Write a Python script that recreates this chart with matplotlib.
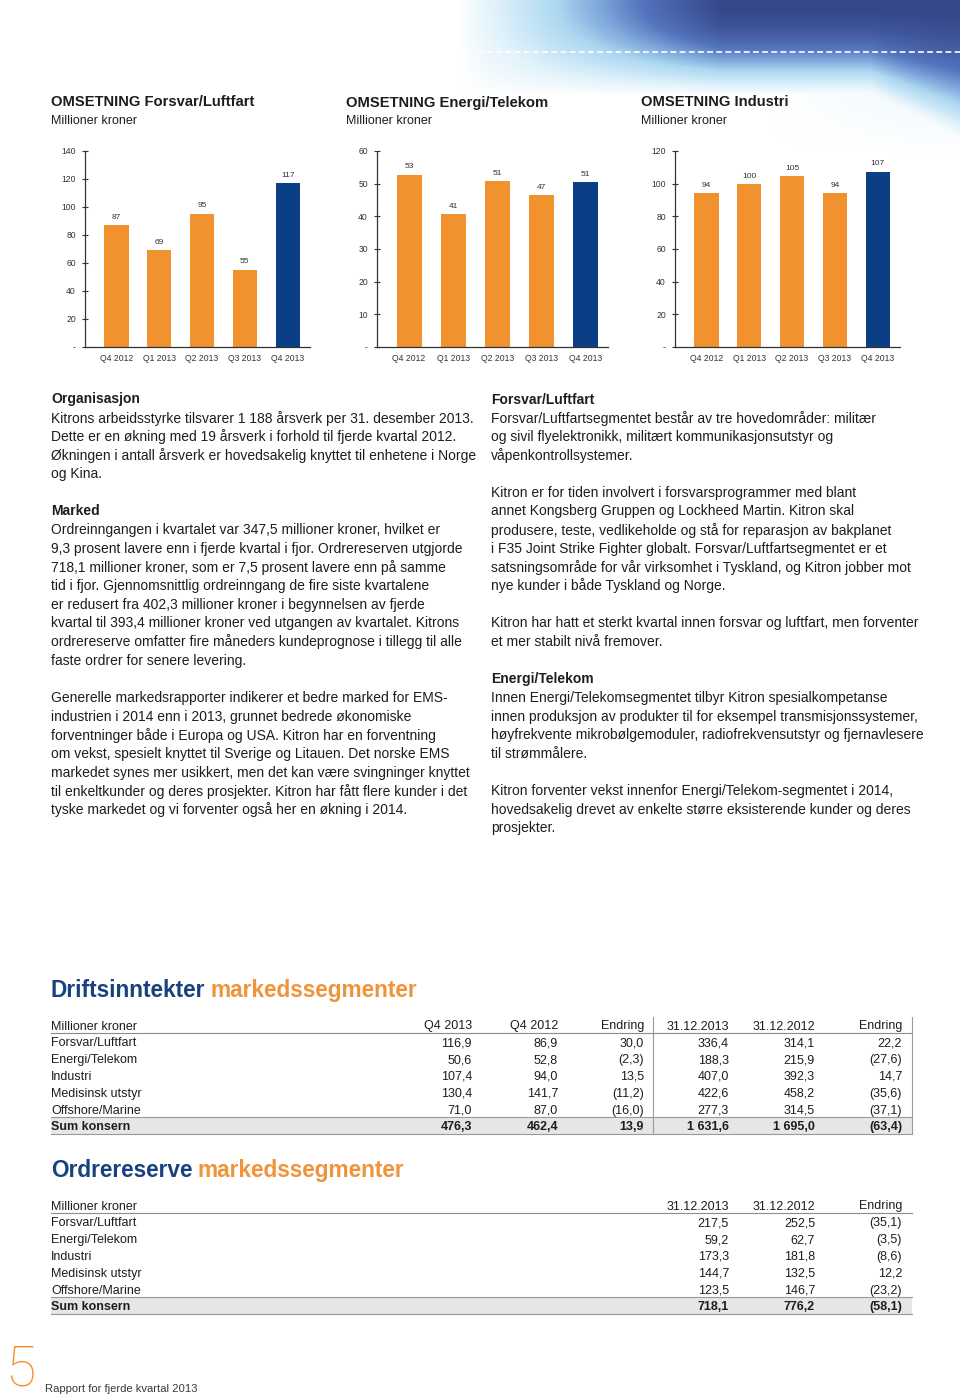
import numpy as np
import matplotlib
matplotlib.use("Agg")
import matplotlib.pyplot as plt
from matplotlib.colors import LinearSegmentedColormap
from matplotlib.patches import Rectangle

# --- data -------------------------------------------------------------
quarters = ["Q4 2012", "Q1 2013", "Q2 2013", "Q3 2013", "Q4 2013"]
oms_forsvar = [86.9, 69.0, 95.3, 55.3, 116.9]
oms_energi = [52.8, 40.7, 50.9, 46.6, 50.6]
oms_industri = [94.0, 99.9, 104.6, 94.2, 107.4]

segmenter = ["Forsvar/Luftfart", "Energi/Telekom", "Industri", "Medisinsk utstyr", "Offshore/Marine"]
q4_2013 = [116.9, 50.6, 107.4, 130.4, 71.0]
q4_2012 = [86.9, 52.8, 94.0, 141.7, 87.0]
q4_endring = [30.0, -2.3, 13.5, -11.2, -16.0]
aar_2013 = [336.4, 188.3, 407.0, 422.6, 277.3]
aar_2012 = [314.1, 215.9, 392.3, 458.2, 314.5]
aar_endring = [22.2, -27.6, 14.7, -35.6, -37.1]
sum_drift = [476.3, 462.4, 13.9, 1631.6, 1695.0, -63.4]

ordre_2013 = [217.5, 59.2, 173.3, 144.7, 123.5]
ordre_2012 = [252.5, 62.7, 181.8, 132.5, 146.7]
ordre_endring = [-35.1, -3.5, -8.6, 12.2, -23.2]
sum_ordre = [718.1, 776.2, -58.1]

venstre = [
    ("h", "Organisasjon"),
    ("p", "Kitrons arbeidsstyrke tilsvarer 1 188 årsverk per 31. desember 2013."),
    ("p", "Dette er en økning med 19 årsverk i forhold til fjerde kvartal 2012."),
    ("p", "Økningen i antall årsverk er hovedsakelig knyttet til enhetene i Norge"),
    ("p", "og Kina."),
    ("", ""),
    ("h", "Marked"),
    ("p", "Ordreinngangen i kvartalet var 347,5 millioner kroner, hvilket er"),
    ("p", "9,3 prosent lavere enn i fjerde kvartal i fjor. Ordrereserven utgjorde"),
    ("p", "718,1 millioner kroner, som er 7,5 prosent lavere enn på samme"),
    ("p", "tid i fjor. Gjennomsnittlig ordreinngang de fire siste kvartalene"),
    ("p", "er redusert fra 402,3 millioner kroner i begynnelsen av fjerde"),
    ("p", "kvartal til 393,4 millioner kroner ved utgangen av kvartalet. Kitrons"),
    ("p", "ordrereserve omfatter fire måneders kundeprognose i tillegg til alle"),
    ("p", "faste ordrer for senere levering."),
    ("", ""),
    ("p", "Generelle markedsrapporter indikerer et bedre marked for EMS-"),
    ("p", "industrien i 2014 enn i 2013, grunnet bedrede økonomiske"),
    ("p", "forventninger både i Europa og USA. Kitron har en forventning"),
    ("p", "om vekst, spesielt knyttet til Sverige og Litauen. Det norske EMS"),
    ("p", "markedet synes mer usikkert, men det kan være svingninger knyttet"),
    ("p", "til enkeltkunder og deres prosjekter. Kitron har fått flere kunder i det"),
    ("p", "tyske markedet og vi forventer også her en økning i 2014."),
]
hoyre = [
    ("h", "Forsvar/Luftfart"),
    ("p", "Forsvar/Luftfartsegmentet består av tre hovedområder: militær"),
    ("p", "og sivil flyelektronikk, militært kommunikasjonsutstyr og"),
    ("p", "våpenkontrollsystemer."),
    ("", ""),
    ("p", "Kitron er for tiden involvert i forsvarsprogrammer med blant"),
    ("p", "annet Kongsberg Gruppen og Lockheed Martin. Kitron skal"),
    ("p", "produsere, teste, vedlikeholde og stå for reparasjon av bakplanet"),
    ("p", "i F35 Joint Strike Fighter globalt. Forsvar/Luftfartsegmentet er et"),
    ("p", "satsningsområde for vår virksomhet i Tyskland, og Kitron jobber mot"),
    ("p", "nye kunder i både Tyskland og Norge."),
    ("", ""),
    ("p", "Kitron har hatt et sterkt kvartal innen forsvar og luftfart, men forventer"),
    ("p", "et mer stabilt nivå fremover."),
    ("", ""),
    ("h", "Energi/Telekom"),
    ("p", "Innen Energi/Telekomsegmentet tilbyr Kitron spesialkompetanse"),
    ("p", "innen produksjon av produkter til for eksempel transmisjonssystemer,"),
    ("p", "høyfrekvente mikrobølgemoduler, radiofrekvensutstyr og fjernavlesere"),
    ("p", "til strømmålere."),
    ("", ""),
    ("p", "Kitron forventer vekst innenfor Energi/Telekom-segmentet i 2014,"),
    ("p", "hovedsakelig drevet av enkelte større eksisterende kunder og deres"),
    ("p", "prosjekter."),
]

# --- style ------------------------------------------------------------
ORANGE = "#F2922F"
NAVY = "#0A3F86"
INK = "#1d1d1b"
GREY = "#333333"
FONT = "Liberation Sans"

plt.rcParams["font.family"] = [FONT, "DejaVu Sans"]

W, H = 960, 1397
fig = plt.figure(figsize=(W / 100, H / 100), dpi=100)
page = fig.add_axes([0, 0, 1, 1])

# blue swoosh in the top right corner
xs = np.arange(400, 960)
ys = np.arange(0, 160)
X, Y = np.meshgrid(xs, ys)
fade = np.clip((X - 460) / 260, 0, 1) ** 0.8
h = 95 + 45 * np.clip((X - 870) / 90, 0, 1)
d = fade * np.clip(1 - (Y / h) ** 2, 0, 1)
d = np.maximum(d, 0.3 * np.clip((X - 760) / 200, 0, 1) * np.clip(1 - Y / 155, 0, 1))
cmap = LinearSegmentedColormap.from_list("swoosh", [
    (0, "#ffffff"), (0.2, "#e0f2fb"), (0.45, "#acd8f1"), (0.6, "#80a9dc"),
    (0.75, "#5374bd"), (0.9, "#41599f"), (1, "#36478a")])
page.imshow(cmap(d), extent=(400, 960, 160, 0), aspect="auto", zorder=0)
page.plot([478, 960], [52, 52], color="white", lw=1.2, dashes=[3.5, 2], zorder=1)
page.set_xlim(0, W)
page.set_ylim(H, 0)
page.axis("off")


def put(x, y, s, **kw):
    kw.setdefault("va", "center_baseline")
    kw.setdefault("color", INK)
    return page.text(x, y, s, **kw)


# --- bar charts -------------------------------------------------------
def bar_chart(left, right, ymax, step, values, title, tx):
    put(tx, 101, "OMSETNING " + title, fontsize=10.6, fontweight="bold")
    put(tx, 119, "Millioner kroner", fontsize=9)
    top, base = 151, 347
    ax = fig.add_axes([left / W, 1 - base / H, (right - left) / W, (base - top) / H])
    ax.set_facecolor("none")
    colors = [ORANGE] * (len(values) - 1) + [NAVY]
    ax.bar(range(len(values)), values, width=0.57, color=colors)
    for i, v in enumerate(values):
        ax.annotate(f"{v:.0f}", (i, v), xytext=(0, 3), textcoords="offset points",
                    ha="center", va="bottom", fontsize=6, color=GREY)
    ax.set_xlim(-0.73, len(values) - 1 + 0.52)
    ax.set_ylim(0, ymax)
    ticks = list(range(0, ymax + 1, step))
    ax.set_yticks(ticks)
    ax.set_yticklabels(["-"] + [str(t) for t in ticks[1:]])
    ax.set_xticks(range(len(values)))
    ax.set_xticklabels(quarters)
    for s in ["top", "right"]:
        ax.spines[s].set_visible(False)
    for s in ["left", "bottom"]:
        ax.spines[s].set_color(GREY)
        ax.spines[s].set_linewidth(0.9)
    ax.tick_params(axis="y", direction="inout", length=5, width=0.8, labelsize=6.2,
                   pad=4, colors=GREY)
    ax.tick_params(axis="x", length=0, labelsize=6.2, pad=5, colors=GREY)


bar_chart(85, 310, 140, 20, oms_forsvar, "Forsvar/Luftfart", 51)
bar_chart(377, 608, 60, 10, oms_energi, "Energi/Telekom", 346)
bar_chart(675, 900, 120, 20, oms_industri, "Industri", 641)

# --- body text --------------------------------------------------------
for x0, lines in [(51, venstre), (491, hoyre)]:
    for i, (kind, s) in enumerate(lines):
        if kind:
            put(x0, 398 + 18.65 * i, s, fontsize=10,
                fontweight="bold" if kind == "h" else "normal")


# --- tables -----------------------------------------------------------
def nok(v):
    s = f"{abs(v):,.1f}".replace(",", " ").replace(".", ",")
    return f"({s})" if v < 0 else s


def table_title(y, first, second):
    kw = dict(fontsize=16.3, fontweight="bold")
    t = put(51, y, first, color="#17417f", **kw)
    r = fig.canvas.get_renderer()
    bb = t.get_window_extent(r)
    x1 = page.transData.inverted().transform((bb.x1, bb.y0))[0]
    put(x1 + 5, y, second, color="#EF943A", **kw)


def table(y0, headers, xcols, rows, sums, vlines):
    dy = 16.83
    fs = 9
    put(51, y0, "Millioner kroner", fontsize=fs)
    for x, hd in zip(xcols, headers):
        put(x, y0, hd, fontsize=fs, ha="right")
    page.plot([51, 912], [y0 + 8, y0 + 8], color="#8c8c8c", lw=0.8)
    for k, (name, vals) in enumerate(rows):
        y = y0 + dy * (k + 1)
        put(51, y, name, fontsize=fs)
        for x, v in zip(xcols, vals):
            put(x, y, nok(v), fontsize=fs, ha="right")
    ys = y0 + dy * (len(rows) + 1)
    page.add_patch(Rectangle((51, ys - 8.5), 861, 16.5, facecolor="#e6e6e6",
                             edgecolor="none", zorder=0.5))
    page.plot([51, 912], [ys - 8.5, ys - 8.5], color="#9a9a9a", lw=0.8)
    page.plot([51, 912], [ys + 8, ys + 8], color="#9a9a9a", lw=0.8)
    put(51, ys, "Sum konsern", fontsize=fs, fontweight="bold")
    for x, v in zip(xcols, sums):
        put(x, ys, nok(v), fontsize=fs, ha="right", fontweight="bold")
    for xv in vlines:
        page.plot([xv, xv], [y0 - 8, ys + 8], color="#9a9a9a", lw=0.8)


table_title(988, "Driftsinntekter", "markedssegmenter")
table(1025, ["Q4 2013", "Q4 2012", "Endring", "31.12.2013", "31.12.2012", "Endring"],
      [472, 558, 644, 729, 815, 902],
      list(zip(segmenter, zip(q4_2013, q4_2012, q4_endring, aar_2013, aar_2012, aar_endring))),
      sum_drift, [652.7, 911.7])

table_title(1168, "Ordrereserve", "markedssegmenter")
table(1205, ["31.12.2013", "31.12.2012", "Endring"], [729, 815, 902],
      list(zip(segmenter, zip(ordre_2013, ordre_2012, ordre_endring))),
      sum_ordre, [])

# --- footer -----------------------------------------------------------
put(5, 1396, "5", fontsize=40, color=ORANGE, family=["Roboto", FONT],
    fontweight="light", va="bottom")
put(45, 1392, "Rapport for fjerde kvartal 2013", fontsize=8.1, color="#3a3a3a",
    va="baseline")

fig.savefig("out.png", dpi=100)
